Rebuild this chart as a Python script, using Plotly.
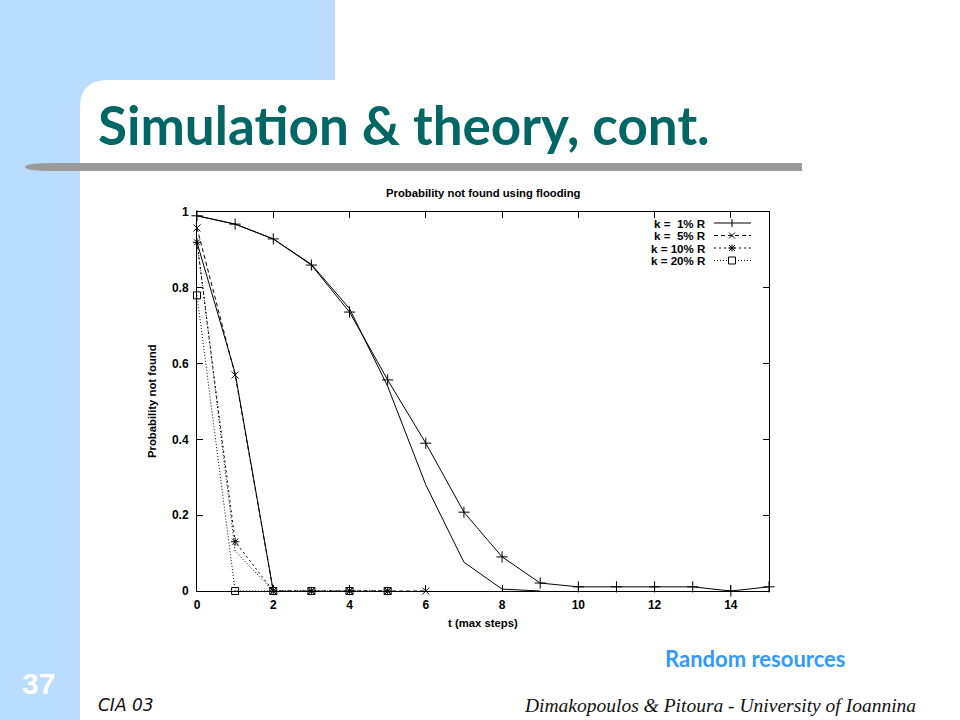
import plotly.graph_objects as go

# ---------------- data ----------------
t_steps = list(range(16))
sim_k1 = [0.99, 0.968, 0.929, 0.86, 0.736, 0.557, 0.39, 0.208, 0.09, 0.021,
          0.011, 0.011, 0.011, 0.011, 0.0, 0.011]
t_theory_k1 = list(range(10))
theory_k1 = [0.99, 0.968, 0.929, 0.862, 0.745, 0.54, 0.28, 0.076, 0.005, 0.0]

t_k5 = list(range(7))
sim_k5 = [0.958, 0.57, 0.0, 0.0, 0.0, 0.0, 0.0]
t_theory_k5 = [0, 1, 2]
theory_k5 = [0.92, 0.575, 0.0]

t_k10 = list(range(6))
sim_k10 = [0.92, 0.13, 0.0, 0.0, 0.0, 0.0]
t_theory_k10 = [0, 1, 2]
theory_k10 = [0.925, 0.105, 0.0]

t_k20 = list(range(6))
sim_k20 = [0.78, 0.0, 0.0, 0.0, 0.0, 0.0]

legend_labels = ["k = \u00a01% R", "k = \u00a05% R", "k = 10% R", "k = 20% R"]
x_ticks = [0, 2, 4, 6, 8, 10, 12, 14]
y_ticks = [0, 0.2, 0.4, 0.6, 0.8, 1.0]
y_tick_text = ["0", "0.2", "0.4", "0.6", "0.8", "1"]

# ---------------- geometry helpers (pixel -> paper) ----------------
PL, PR, PT, PB = 197, 769, 212, 591


def xp(px):
    return (px - PL) / (PR - PL)


def yp(py):
    return (PB - py) / (PB - PT)


def P(px, py):
    return f"{xp(px):.5f},{yp(py):.5f}"


BLACK = "black"
fig = go.Figure()

line_k1 = dict(color=BLACK, width=1)
line_k5 = dict(color=BLACK, width=1, dash="4px,3px")
line_k10 = dict(color=BLACK, width=1, dash="2px,3px")
line_k20 = dict(color=BLACK, width=1, dash="1px,2px")

# theory curves (no markers)
fig.add_trace(go.Scatter(x=t_theory_k1, y=theory_k1, mode="lines",
                         line=dict(color=BLACK, width=1), cliponaxis=False))
fig.add_trace(go.Scatter(x=t_theory_k5, y=theory_k5, mode="lines",
                         line=dict(color=BLACK, width=1), cliponaxis=False))
fig.add_trace(go.Scatter(x=t_theory_k10, y=theory_k10, mode="lines",
                         line=dict(color=BLACK, width=1, dash="1px,2px"),
                         cliponaxis=False))

# simulation curves
fig.add_trace(go.Scatter(x=t_steps, y=sim_k1, mode="lines+markers", line=line_k1,
                         marker=dict(symbol="cross-thin-open", size=8,
                                     line=dict(color=BLACK, width=1)),
                         cliponaxis=False))
fig.add_trace(go.Scatter(x=t_k5, y=sim_k5, mode="lines+markers", line=line_k5,
                         marker=dict(symbol="x-thin-open", size=7,
                                     line=dict(color=BLACK, width=1)),
                         cliponaxis=False))
fig.add_trace(go.Scatter(x=t_k10, y=sim_k10, mode="lines+markers", line=line_k10,
                         marker=dict(symbol="asterisk-open", size=7,
                                     line=dict(color=BLACK, width=1)),
                         cliponaxis=False))
fig.add_trace(go.Scatter(x=t_k20, y=sim_k20, mode="lines+markers", line=line_k20,
                         marker=dict(symbol="square-open", size=7, color=BLACK,
                                     line=dict(color=BLACK, width=1)),
                         cliponaxis=False))

tickfont = dict(family="Liberation Sans", size=12, color=BLACK, weight="bold")
axis_common = dict(ticks="inside", ticklen=6, tickwidth=1, tickcolor=BLACK,
                   showline=True, linecolor=BLACK, linewidth=1, mirror="ticks",
                   showgrid=False, zeroline=False, tickfont=tickfont)

fig.update_layout(
    width=960, height=720,
    margin=dict(l=PL, r=960 - PR, t=PT, b=720 - PB, pad=0, autoexpand=False),
    paper_bgcolor="white", plot_bgcolor="white",
    showlegend=False,
    xaxis=dict(range=[0, 15], tickvals=x_ticks, ticklabelstandoff=3, **axis_common),
    yaxis=dict(range=[0, 1], tickvals=y_ticks, ticktext=y_tick_text,
               ticklabelstandoff=5, **axis_common),
)

shapes = []
# slide decoration
shapes.append(dict(type="path", xref="paper", yref="paper", layer="below",
                   path=(f"M{P(0,0)} L{P(335,0)} L{P(335,80)} L{P(108,80)} "
                         f"Q{P(80,80)} {P(80,108)} L{P(80,720)} L{P(0,720)} Z"),
                   fillcolor="#BADCFF", line=dict(width=0)))
shapes.append(dict(type="path", xref="paper", yref="paper", layer="below",
                   path=(f"M{P(802,163)} L{P(55,163)} Q{P(25,163)} {P(25,167)} "
                         f"Q{P(25,171)} {P(55,171)} L{P(802,171)} Z"),
                   fillcolor="#9A9A9A", line=dict(width=0)))

# legend samples
leg_rows = [223, 235.5, 248, 260.5]
leg_dash = ["solid", "4px,3px", "2px,3px", "1px,2px"]
for row, dsh in zip(leg_rows, leg_dash):
    shapes.append(dict(type="line", xref="paper", yref="paper",
                       x0=xp(714), x1=xp(751), y0=yp(row), y1=yp(row),
                       line=dict(color=BLACK, width=1, dash=dsh)))
cx = 732
# "+"
r0 = leg_rows[0]
shapes.append(dict(type="line", xref="paper", yref="paper", x0=xp(cx), x1=xp(cx),
                   y0=yp(r0 - 4), y1=yp(r0 + 4), line=dict(color=BLACK, width=1)))
# "x"
r1 = leg_rows[1]
for a, b in [(-3, -3), (-3, 3)]:
    shapes.append(dict(type="line", xref="paper", yref="paper",
                       x0=xp(cx + a), x1=xp(cx - a), y0=yp(r1 + b), y1=yp(r1 - b),
                       line=dict(color=BLACK, width=1)))
# "*"
r2 = leg_rows[2]
for a, b in [(-3, -3), (-3, 3), (0, -3.5), (-3.5, 0)]:
    shapes.append(dict(type="line", xref="paper", yref="paper",
                       x0=xp(cx + a), x1=xp(cx - a), y0=yp(r2 + b), y1=yp(r2 - b),
                       line=dict(color=BLACK, width=1)))
# square
r3 = leg_rows[3]
shapes.append(dict(type="rect", xref="paper", yref="paper",
                   x0=xp(cx - 3.5), x1=xp(cx + 3.5), y0=yp(r3 + 3.5), y1=yp(r3 - 3.5),
                   line=dict(color=BLACK, width=1), fillcolor="white"))
fig.update_layout(shapes=shapes)

ann = []
small = dict(family="Liberation Sans", size=11.3, color=BLACK)
legfont = dict(family="Liberation Sans", size=11.6, color=BLACK)
for row, lab in zip(leg_rows, legend_labels):
    ann.append(dict(xref="paper", yref="paper", x=xp(708), y=yp(row),
                    xanchor="right", yanchor="middle", showarrow=False,
                    text=f"<b>{lab}</b>", font=legfont))
ann.append(dict(xref="paper", yref="paper", x=xp(483), y=yp(193),
                xanchor="center", yanchor="middle", showarrow=False,
                text="<b>Probability not found using flooding</b>", font=small))
ann.append(dict(xref="paper", yref="paper", x=xp(483), y=yp(623),
                xanchor="center", yanchor="middle", showarrow=False,
                text="<b>t (max steps)</b>", font=small))
ann.append(dict(xref="paper", yref="paper", x=xp(152), y=yp(401),
                xanchor="center", yanchor="middle", showarrow=False, textangle=-90,
                text="<b>Probability not found</b>", font=small))

# slide texts
ann.append(dict(xref="paper", yref="paper", x=xp(96), y=yp(124),
                xanchor="left", yanchor="middle", showarrow=False,
                text="<b>Simulation &amp; theory, cont.</b>",
                font=dict(family="Lato", size=53, color="#006666")))
ann.append(dict(xref="paper", yref="paper", x=xp(755), y=yp(658),
                xanchor="center", yanchor="middle", showarrow=False,
                text="<b>Random resources</b>",
                font=dict(family="Lato", size=22, color="#3399FF")))
ann.append(dict(xref="paper", yref="paper", x=xp(38), y=yp(683),
                xanchor="center", yanchor="middle", showarrow=False,
                text="<b>37</b>",
                font=dict(family="Liberation Sans", size=30, color="white")))
ann.append(dict(xref="paper", yref="paper", x=xp(96), y=yp(705),
                xanchor="left", yanchor="middle", showarrow=False,
                text="<i>CIA 03</i>",
                font=dict(family="DejaVu Sans", size=17, color="#111111")))
ann.append(dict(xref="paper", yref="paper", x=xp(918), y=yp(705),
                xanchor="right", yanchor="middle", showarrow=False,
                text="<i>Dimakopoulos &amp; Pitoura - University of Ioannina</i>",
                font=dict(family="Liberation Serif", size=19.5, color="#111111")))
fig.update_layout(annotations=ann)

fig.write_html("out.html", config={"displayModeBar": False},
               post_script="document.body.style.margin='0';"
                           "document.body.style.overflow='hidden';")
